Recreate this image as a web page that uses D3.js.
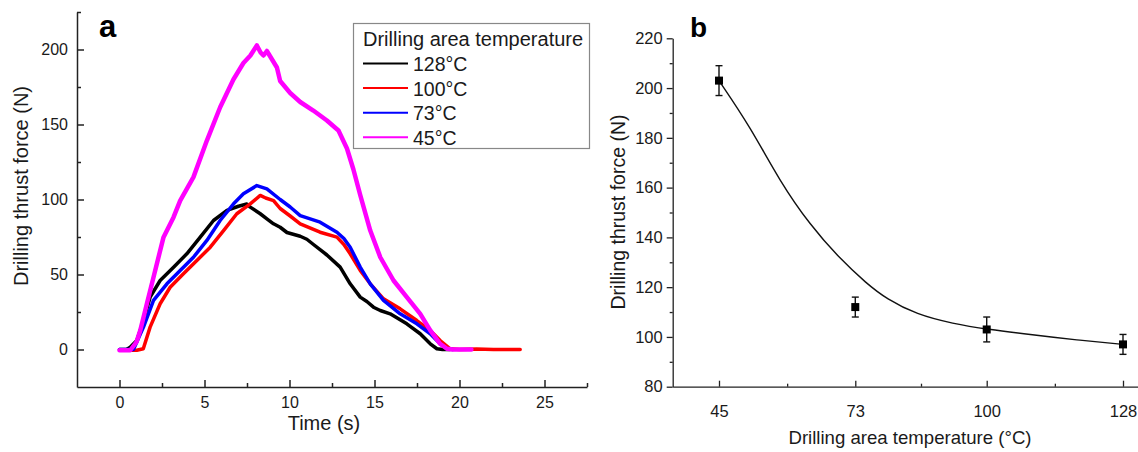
<!DOCTYPE html>
<html><head><meta charset="utf-8">
<script src="https://cdn.jsdelivr.net/npm/d3@7"></script>
<style>
body{margin:0;background:#fff}
svg{display:block;font-family:"Liberation Sans",Arial,sans-serif}
</style>
</head><body>
<svg id="c" width="1138" height="452"></svg>
<script>
// ---------- Panel a data ----------
const seriesLabels = ["128°C", "100°C", "73°C", "45°C"];
const seriesColors = ["#000000", "#ff0000", "#0000ff", "#ff00ff"];

const time128 = [0, 0.4, 0.63, 1.02, 1.41, 1.8, 2.39, 3.18, 3.96, 4.75, 5.53, 6.32, 7.0, 7.49, 7.69, 8.28, 8.67, 9.06, 9.45, 9.85, 10.63, 11.02, 11.41, 12.2, 12.98, 13.57, 14.16, 14.55, 14.94, 15.34, 15.92, 16.9, 17.69, 18.28, 18.67, 19.0, 19.45];
const force128 = [0, 0, 1.5, 6, 19.3, 34.9, 46, 54.9, 63.8, 74.9, 86, 92.7, 95.5, 97, 94.9, 90.5, 87.1, 83.8, 81.5, 78, 75.5, 73.5, 70, 63, 54.9, 43.8, 34.9, 32, 28.2, 26, 23.8, 17.1, 10.5, 3.8, 0.5, 0, 0];

const time100 = [0, 0.5, 1.02, 1.4, 1.8, 2.39, 2.98, 3.76, 4.55, 5.34, 6.12, 6.9, 7.69, 8.28, 8.6, 9.06, 9.45, 10.04, 10.63, 11.8, 12.79, 13.2, 13.57, 14.16, 14.75, 15.53, 16.51, 17.49, 18.28, 18.86, 19.45, 20.0, 21.0, 22.0, 23.57];
const force100 = [-0.5, -0.5, -0.5, 0.5, 14.9, 30.5, 41.5, 50.5, 59.3, 68.2, 79.3, 90.5, 97.1, 102.7, 101, 99.3, 94, 89, 83.8, 78.2, 74.9, 70, 63.8, 52.7, 43.8, 33.8, 27.1, 19.3, 12.7, 6, 0.5, 0, 0.3, 0, 0];

const time73 = [0, 0.5, 0.82, 1.41, 2.0, 2.79, 3.57, 4.35, 5.14, 5.92, 6.71, 7.29, 8.08, 8.67, 9.45, 10.04, 10.63, 11.8, 12.79, 13.2, 13.57, 14.16, 14.75, 15.53, 16.51, 17.49, 18.28, 18.86, 19.26, 19.6];
const force73 = [0, 0, 0, 14.9, 32.7, 43.8, 52.7, 61.5, 72.7, 86, 97.1, 103.8, 109.3, 107.1, 100, 95, 89.3, 84.9, 78.2, 74, 68.2, 54.9, 43.8, 32.7, 23.8, 17.1, 10.5, 3.8, 0.5, 0];

const time45 = [0, 0.63, 1.0, 1.22, 1.61, 2.0, 2.59, 3.18, 3.57, 4.35, 5.14, 5.92, 6.7, 7.29, 7.7, 8.08, 8.3, 8.47, 8.67, 9.26, 9.45, 10.04, 10.63, 11.4, 12.2, 12.88, 13.38, 13.76, 14.16, 14.75, 15.34, 16.12, 16.9, 17.69, 18.28, 18.86, 19.26, 19.6, 20.0, 20.7];
const force45 = [-0.5, -0.5, 5, 12.7, 30.5, 48.2, 74.9, 88.2, 99.3, 114.9, 139.3, 161.5, 180, 191, 196, 202.7, 198, 196, 199, 188, 179, 171, 165, 159.3, 152.7, 146, 134, 120, 103, 79.3, 61.5, 46, 34.9, 23.8, 12.7, 3.8, 0.5, 0, 0, 0];

const timeTicks = [0, 5, 10, 15, 20, 25];
const timeMinor = [2.5, 7.5, 12.5, 17.5, 22.5, 27.5];
const forceTicksA = [0, 50, 100, 150, 200];
const forceMinorA = [25, 75, 125, 175, 225];

// ---------- Panel b data ----------
const tempCats = [45, 73, 100, 128];
const meanForce = [203, 112, 103, 97];
const errForce = [6, 4, 5, 4];
const fitTemp = [45, 51.4, 57.5, 63.7, 69.8, 75.3, 79.4, 85.6, 93.1, 100, 109.5, 118.4, 128];
const fitForce = [203, 184.5, 162.5, 145, 131.5, 121.5, 115.3, 109, 105.3, 103.1, 100.8, 98.8, 97.0];
const tempMinor = [59, 86.5, 114];
const forceTicksB = [80, 100, 120, 140, 160, 180, 200, 220];
const forceMinorB = [90, 110, 130, 150, 170, 190, 210];

const svg = d3.select("#c");
const axisColor = "#222";
const textColor = "#1a1a1a";

function styleAxis(g, fs) {
  g.selectAll("path.domain").attr("stroke", axisColor).attr("stroke-width", 1.5);
  g.selectAll(".tick line").attr("stroke", axisColor).attr("stroke-width", 1.5);
  g.selectAll(".tick text").attr("fill", textColor).style("font-size", fs + "px");
}

// ================= Panel a =================
const xA = d3.scaleLinear().domain([-2.5, 27.5]).range([77, 587]);
const yA = d3.scaleLinear().domain([-25, 225]).range([387, 12]);

const gxA = svg.append("g").attr("transform", `translate(0,${yA(-25)})`)
  .call(d3.axisBottom(xA).tickValues(timeTicks).tickSizeInner(-7).tickSizeOuter(0).tickPadding(10).tickFormat(d3.format("d")));
styleAxis(gxA, 16);
const gxAm = svg.append("g").attr("transform", `translate(0,${yA(-25)})`)
  .call(d3.axisBottom(xA).tickValues(timeMinor).tickSizeInner(-4).tickSizeOuter(0).tickFormat(""));
styleAxis(gxAm, 16); gxAm.select("path.domain").remove();

const gyA = svg.append("g").attr("transform", `translate(${xA(-2.5)},0)`)
  .call(d3.axisLeft(yA).tickValues(forceTicksA).tickSizeInner(-7).tickSizeOuter(0).tickPadding(9).tickFormat(d3.format("d")));
styleAxis(gyA, 16);
const gyAm = svg.append("g").attr("transform", `translate(${xA(-2.5)},0)`)
  .call(d3.axisLeft(yA).tickValues(forceMinorA).tickSizeInner(-4).tickSizeOuter(0).tickFormat(""));
styleAxis(gyAm, 16); gyAm.select("path.domain").remove();

svg.append("text").attr("x", 324).attr("y", 430).attr("text-anchor", "middle")
  .style("font-size", "20px").attr("fill", textColor).text("Time (s)");
svg.append("text").attr("transform", "translate(28,186) rotate(-90)").attr("text-anchor", "middle")
  .style("font-size", "20px").attr("fill", textColor).text("Drilling thrust force (N)");
svg.append("text").attr("x", 99).attr("y", 37).style("font-size", "31px").style("font-weight", "bold")
  .attr("fill", "#000").text("a");

const seriesA = [
  {t: time128, f: force128},
  {t: time100, f: force100},
  {t: time73, f: force73},
  {t: time45, f: force45}
];
const lineA = d3.line().x(d => xA(d[0])).y(d => yA(d[1]));
seriesA.forEach((s, i) => {
  const pts = s.t.map((t, j) => [t, s.f[j]]);
  svg.append("path").datum(pts).attr("d", lineA).attr("fill", "none")
    .attr("stroke", seriesColors[i]).attr("stroke-width", i === 3 ? 4.5 : 3.5)
    .attr("stroke-linejoin", "round").attr("stroke-linecap", "round");
});

// legend
const lg = svg.append("g");
lg.append("rect").attr("x", 353.5).attr("y", 23.5).attr("width", 236).attr("height", 125)
  .attr("fill", "#fff").attr("stroke", "#888").attr("stroke-width", 1.2);
lg.append("text").attr("x", 363).attr("y", 46).style("font-size", "20px").attr("fill", textColor)
  .text("Drilling area temperature");
seriesLabels.forEach((lab, i) => {
  const y = 63.5 + i * 24.6;
  lg.append("line").attr("x1", 363).attr("x2", 408).attr("y1", y).attr("y2", y)
    .attr("stroke", seriesColors[i]).attr("stroke-width", 2);
  lg.append("text").attr("x", 413).attr("y", y + 7.5).style("font-size", "19.5px").attr("fill", textColor).text(lab);
});

// ================= Panel b =================
const xB = d3.scaleLinear().domain([45, 128]).range([719, 1123]);
const xB0 = xB.invert(672.7), xB1 = xB.invert(1145);
const xBaxis = d3.scaleLinear().domain([xB0, xB1]).range([672.7, 1145]);
const yB = d3.scaleLinear().domain([80, 220]).range([386.7, 38.3]);

const gxB = svg.append("g").attr("transform", `translate(0,${yB(80)})`)
  .call(d3.axisBottom(xBaxis).tickValues(tempCats).tickSizeInner(-6).tickSizeOuter(0).tickPadding(19).tickFormat(d3.format("d")));
styleAxis(gxB, 16.5);
gxB.selectAll("path.domain, .tick line").attr("stroke-width", 1.3);
const gxBm = svg.append("g").attr("transform", `translate(0,${yB(80)})`)
  .call(d3.axisBottom(xBaxis).tickValues(tempMinor).tickSizeInner(-3).tickSizeOuter(0).tickFormat(""));
styleAxis(gxBm, 16); gxBm.select("path.domain").remove();
gxBm.selectAll(".tick line").attr("stroke-width", 1.3);

const gyB = svg.append("g").attr("transform", `translate(672.7,0)`)
  .call(d3.axisLeft(yB).tickValues(forceTicksB).tickSizeInner(6).tickSizeOuter(0).tickPadding(4).tickFormat(d3.format("d")));
styleAxis(gyB, 16.5);
gyB.selectAll("path.domain, .tick line").attr("stroke-width", 1.3);
const gyBm = svg.append("g").attr("transform", `translate(672.7,0)`)
  .call(d3.axisLeft(yB).tickValues(forceMinorB).tickSizeInner(3).tickSizeOuter(0).tickFormat(""));
styleAxis(gyBm, 16); gyBm.select("path.domain").remove();
gyBm.selectAll(".tick line").attr("stroke-width", 1.3);

svg.append("text").attr("x", 910).attr("y", 444).attr("text-anchor", "middle")
  .style("font-size", "18.6px").attr("fill", textColor).text("Drilling area temperature (°C)");
svg.append("text").attr("transform", "translate(625,212) rotate(-90)").attr("text-anchor", "middle")
  .style("font-size", "19.5px").attr("fill", textColor).text("Drilling thrust force (N)");
svg.append("text").attr("x", 690).attr("y", 37).style("font-size", "28px").style("font-weight", "bold")
  .attr("fill", "#000").text("b");

// fit curve
const fitPts = fitTemp.map((t, i) => [t, fitForce[i]]);
svg.append("path").datum(fitPts)
  .attr("d", d3.line().x(d => xB(d[0])).y(d => yB(d[1])).curve(d3.curveBasis))
  .attr("fill", "none").attr("stroke", "#111").attr("stroke-width", 1.4);

// error bars + markers
tempCats.forEach((t, i) => {
  const x = xB(t), m = meanForce[i], e = errForce[i];
  const g = svg.append("g").attr("stroke", "#111").attr("stroke-width", 1.4);
  g.append("line").attr("x1", x).attr("x2", x).attr("y1", yB(m + e)).attr("y2", yB(m - e));
  g.append("line").attr("x1", x - 3.5).attr("x2", x + 3.5).attr("y1", yB(m + e)).attr("y2", yB(m + e));
  g.append("line").attr("x1", x - 3.5).attr("x2", x + 3.5).attr("y1", yB(m - e)).attr("y2", yB(m - e));
  svg.append("rect").attr("x", x - 4).attr("y", yB(m) - 4).attr("width", 8).attr("height", 8).attr("fill", "#000");
});
</script>
</body></html>
